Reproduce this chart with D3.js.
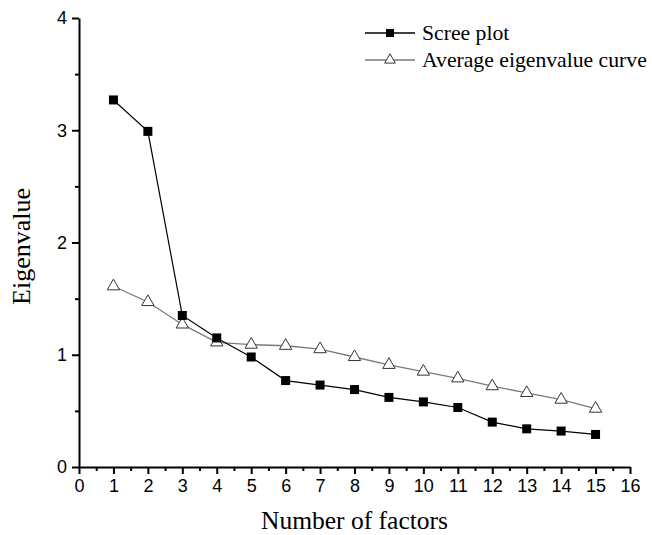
<!DOCTYPE html>
<html>
<head>
<meta charset="utf-8">
<script src="https://cdn.jsdelivr.net/npm/d3@7"></script>
<style>
  html, body { margin: 0; padding: 0; background: #fff; }
  svg { display: block; }
</style>
</head>
<body>
<svg id="chart" width="652" height="535"></svg>
<script>
// scree plot vs average eigenvalue curve

const factors = [1, 2, 3, 4, 5, 6, 7, 8, 9, 10, 11, 12, 13, 14, 15];
const screeValues = [3.27, 2.99, 1.35, 1.15, 0.98, 0.77, 0.73, 0.69, 0.62, 0.58, 0.53, 0.40, 0.34, 0.32, 0.29];
const avgValues = [1.61, 1.47, 1.27, 1.11, 1.09, 1.08, 1.05, 0.98, 0.91, 0.85, 0.79, 0.72, 0.66, 0.60, 0.52];
const xTicks = d3.range(0, 17);
const yTicks = [0, 1, 2, 3, 4];
const seriesNames = ["Scree plot", "Average eigenvalue curve"];

const svg = d3.select("#chart");
const margin = { left: 79, right: 22, top: 18, bottom: 68 };
const W = 652, H = 535;

const x = d3.scaleLinear().domain([0, 16]).range([margin.left, W - margin.right]);
const y = d3.scaleLinear().domain([0, 4]).range([H - margin.bottom, margin.top]);

const tickFont = "'Liberation Sans', Arial, sans-serif";
const serif = "'Liberation Serif', 'Times New Roman', serif";

// minor ticks first so major ticks draw over them
svg.append("g")
  .attr("transform", `translate(0,${y(0)})`)
  .call(d3.axisBottom(x).tickValues(d3.range(0.5, 16, 1)).tickSize(4).tickFormat(""))
  .call((g) => g.select(".domain").remove())
  .call((g) => g.selectAll("line").attr("stroke", "#000").attr("stroke-width", 2));

svg.append("g")
  .attr("transform", `translate(${x(0)},0)`)
  .call(d3.axisLeft(y).tickValues(d3.range(0.5, 4, 1)).tickSize(4).tickFormat(""))
  .call((g) => g.select(".domain").remove())
  .call((g) => g.selectAll("line").attr("stroke", "#000").attr("stroke-width", 2));

const xAxis = svg.append("g")
  .attr("transform", `translate(0,${y(0)})`)
  .call(d3.axisBottom(x).tickValues(xTicks).tickFormat(d3.format("d"))
    .tickSize(7).tickPadding(5).tickSizeOuter(0));

const yAxis = svg.append("g")
  .attr("transform", `translate(${x(0)},0)`)
  .call(d3.axisLeft(y).tickValues(yTicks).tickFormat(d3.format("d"))
    .tickSize(7).tickPadding(5).tickSizeOuter(0));

[xAxis, yAxis].forEach((g) => {
  g.select(".domain").attr("stroke", "#000").attr("stroke-width", 2);
  g.selectAll(".tick line").attr("stroke", "#000").attr("stroke-width", 2);
  g.selectAll(".tick text")
    .attr("fill", "#000")
    .style("font-family", tickFont)
    .style("font-size", "18px");
});

// axis titles
svg.append("text")
  .attr("x", (x(0) + x(16)) / 2)
  .attr("y", 529)
  .attr("text-anchor", "middle")
  .style("font-family", serif)
  .style("font-size", "25.5px")
  .text("Number of factors");

svg.append("text")
  .attr("transform", `translate(30,${(y(0) + y(4)) / 2 + 4}) rotate(-90)`)
  .attr("text-anchor", "middle")
  .style("font-family", serif)
  .style("font-size", "26px")
  .text("Eigenvalue");

const line = d3.line().x((d) => x(d[0])).y((d) => y(d[1]));
const avgPts = factors.map((f, i) => [f, avgValues[i]]);
const screePts = factors.map((f, i) => [f, screeValues[i]]);

const triSym = d3.symbol().type(d3.symbolTriangle).size(66);

// average eigenvalue curve (gray)
svg.append("path")
  .datum(avgPts)
  .attr("d", line)
  .attr("fill", "none")
  .attr("stroke", "#7a7a7a")
  .attr("stroke-width", 1.3);

svg.selectAll("path.tri")
  .data(avgPts)
  .enter()
  .append("path")
  .attr("class", "tri")
  .attr("d", triSym)
  .attr("transform", (d) => `translate(${x(d[0])},${y(d[1])})`)
  .attr("fill", "#fff")
  .attr("stroke", "#333")
  .attr("stroke-width", 1);

// scree plot (black)
svg.append("path")
  .datum(screePts)
  .attr("d", line)
  .attr("fill", "none")
  .attr("stroke", "#000")
  .attr("stroke-width", 1.2);

svg.selectAll("rect.sq")
  .data(screePts)
  .enter()
  .append("rect")
  .attr("class", "sq")
  .attr("x", (d) => x(d[0]) - 4.5)
  .attr("y", (d) => y(d[1]) - 4.5)
  .attr("width", 9)
  .attr("height", 9)
  .attr("fill", "#000");

// legend
const legend = svg.append("g").attr("transform", "translate(365,33)");
const rowGap = 27;

seriesNames.forEach((name, i) => {
  const row = legend.append("g").attr("transform", `translate(0,${i * rowGap})`);
  row.append("line")
    .attr("x1", 0).attr("x2", 50)
    .attr("stroke", i === 0 ? "#000" : "#7a7a7a")
    .attr("stroke-width", 1.3);
  if (i === 0) {
    row.append("rect")
      .attr("x", 21).attr("y", -4).attr("width", 8).attr("height", 8)
      .attr("fill", "#000");
  } else {
    row.append("path")
      .attr("d", d3.symbol().type(d3.symbolTriangle).size(50))
      .attr("transform", "translate(25,0)")
      .attr("fill", "#fff")
      .attr("stroke", "#333");
  }
  row.append("text")
    .attr("x", 57)
    .attr("y", 7)
    .style("font-family", serif)
    .style("font-size", "21.7px")
    .text(name);
});
</script>
</body>
</html>
